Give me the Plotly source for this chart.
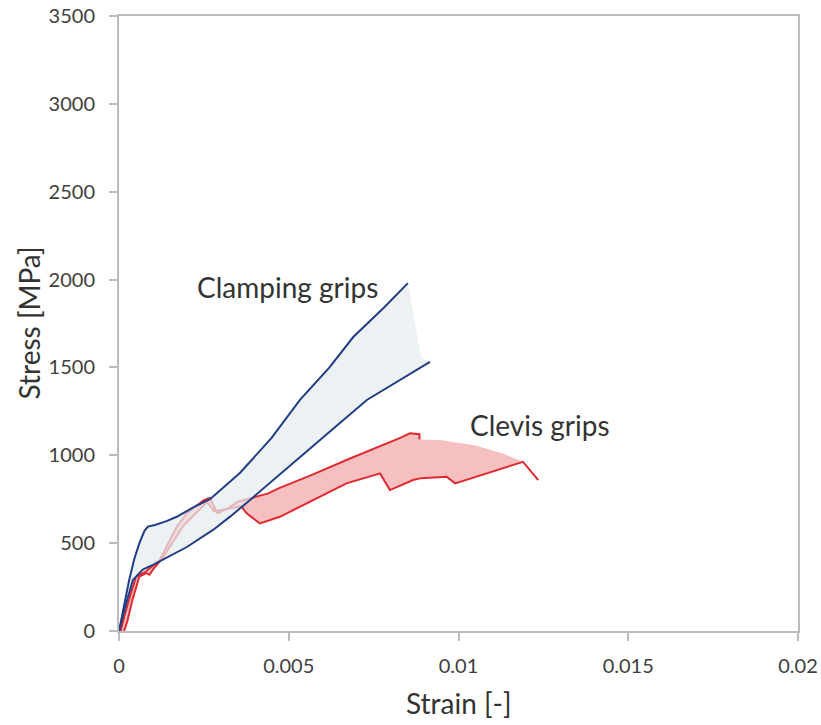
import plotly.graph_objects as go

# Clamping grips - upper curve
clamp_hi_x = [0.0, 0.00015, 0.0003, 0.00045, 0.0006, 0.00075, 0.00085, 0.00106, 0.0014, 0.0017, 0.0022, 0.00268,
              0.0031, 0.00356, 0.0045, 0.00533, 0.0062, 0.0069, 0.0078, 0.00851]
clamp_hi_y = [0, 150, 290, 410, 500, 570, 594, 603, 625, 650, 705, 750,
              820, 899, 1100, 1315, 1500, 1673, 1840, 1980]
# Clamping grips - lower curve
clamp_lo_x = [0.0, 0.0002, 0.00041, 0.0007, 0.001, 0.0015, 0.002, 0.00277, 0.0033, 0.00386, 0.0046,
              0.00533, 0.0063, 0.0073, 0.0083, 0.00916]
clamp_lo_y = [0, 150, 290, 350, 376, 425, 478, 575, 655, 746, 870,
              990, 1150, 1315, 1430, 1531]
# Clamping fill closing edge
clamp_edge_x = [0.00851, 0.0089, 0.00916]
clamp_edge_y = [1980, 1560, 1531]

# Clevis grips - curve A (upper)
clevis_a_x = [0.00005, 0.00015, 0.00032, 0.0005, 0.0008, 0.0012, 0.0017, 0.002, 0.0025, 0.00268,
              0.0029, 0.0032, 0.0035, 0.0044, 0.0047, 0.0057, 0.0067, 0.0077, 0.0083, 0.00857,
              0.00885, 0.00885]
clevis_a_y = [0, 80, 194, 309, 340, 404, 593, 670, 745, 757,
              670, 697, 736, 783, 812, 890, 973, 1050, 1100, 1125,
              1120, 1090]
# Clevis grips - curve B (lower)
clevis_b_x = [0.00015, 0.00025, 0.0004, 0.0006, 0.0008, 0.0009, 0.0010, 0.0013, 0.0019, 0.0026, 0.0028,
              0.0033, 0.0036, 0.00376, 0.00415, 0.00474, 0.00572, 0.0067, 0.00769, 0.00798,
              0.00866, 0.0089, 0.00965, 0.0099, 0.0119, 0.01235]
clevis_b_y = [0, 60, 180, 310, 330, 320, 350, 420, 600, 735, 680,
              700, 710, 670, 612, 650, 745, 840, 897, 802,
              859, 870, 878, 840, 963, 859]
# Clevis fill upper edge beyond curve A
clevis_edge_x = [0.00885, 0.0095, 0.0105, 0.0113, 0.0119]
clevis_edge_y = [1090, 1085, 1055, 1010, 963]

x_ticks = [0, 0.005, 0.01, 0.015, 0.02]
x_tick_text = ["0", "0.005", "0.01", "0.015", "0.02"]
y_ticks = [0, 500, 1000, 1500, 2000, 2500, 3000, 3500]

BLUE = "#203d85"
RED = "#e02a2f"
FONT = "Lato"

fig = go.Figure()

# red fill
b_idx = clevis_b_x.index(0.0119)
red_poly_x = clevis_a_x + clevis_edge_x[1:] + clevis_b_x[:b_idx + 1][::-1]
red_poly_y = clevis_a_y + clevis_edge_y[1:] + clevis_b_y[:b_idx + 1][::-1]
fig.add_trace(go.Scatter(x=red_poly_x, y=red_poly_y, fill="toself", mode="none",
                         fillcolor="rgba(240,130,130,0.5)", hoverinfo="skip", showlegend=False))
fig.add_trace(go.Scatter(x=clevis_a_x, y=clevis_a_y, mode="lines",
                         line=dict(color=RED, width=2), showlegend=False))
fig.add_trace(go.Scatter(x=clevis_b_x, y=clevis_b_y, mode="lines",
                         line=dict(color=RED, width=2), showlegend=False))

# blue fill
blue_poly_x = clamp_hi_x + clamp_edge_x[1:] + clamp_lo_x[::-1]
blue_poly_y = clamp_hi_y + clamp_edge_y[1:] + clamp_lo_y[::-1]
fig.add_trace(go.Scatter(x=blue_poly_x, y=blue_poly_y, fill="toself", mode="none",
                         fillcolor="rgba(228,235,238,0.72)", hoverinfo="skip", showlegend=False))
fig.add_trace(go.Scatter(x=clamp_hi_x, y=clamp_hi_y, mode="lines",
                         line=dict(color=BLUE, width=2), showlegend=False))
fig.add_trace(go.Scatter(x=clamp_lo_x, y=clamp_lo_y, mode="lines",
                         line=dict(color=BLUE, width=2), showlegend=False))

fig.add_annotation(x=0.00495, y=1958, text="Clamping grips", showarrow=False,
                   xanchor="center", yanchor="middle",
                   font=dict(family=FONT, size=28, color="#333333"))
fig.add_annotation(x=0.0124, y=1172, text="Clevis grips", showarrow=False,
                   xanchor="center", yanchor="middle",
                   font=dict(family=FONT, size=28, color="#333333"))

fig.add_annotation(xref="paper", yref="paper", x=-0.134, y=0.5, text="Stress [MPa]",
                   textangle=-90, showarrow=False, xanchor="center", yanchor="middle",
                   font=dict(family=FONT, size=28, color="#333333"))
fig.add_annotation(xref="paper", yref="paper", x=0.5, y=-0.117, text="Strain [-]",
                   showarrow=False, xanchor="center", yanchor="middle",
                   font=dict(family=FONT, size=28, color="#333333"))

axis_common = dict(showgrid=False, zeroline=False, showline=True, linecolor="#bcbcbc",
                   linewidth=2, mirror=True, ticks="outside", ticklen=8, tickwidth=2,
                   tickcolor="#bcbcbc", automargin=False,
                   tickfont=dict(family=FONT, size=20, color="#404040"))

fig.update_xaxes(range=[0, 0.02], tickvals=x_ticks, ticktext=x_tick_text,
                 ticklabelstandoff=8, **axis_common)
fig.update_yaxes(range=[0, 3500], tickvals=y_ticks, ticklabelstandoff=10, **axis_common)

fig.update_layout(width=821, height=725, margin=dict(l=119, r=23, t=16, b=94),
                  plot_bgcolor="white", paper_bgcolor="white",
                  font=dict(family=FONT))

fig.write_html("out.html")
